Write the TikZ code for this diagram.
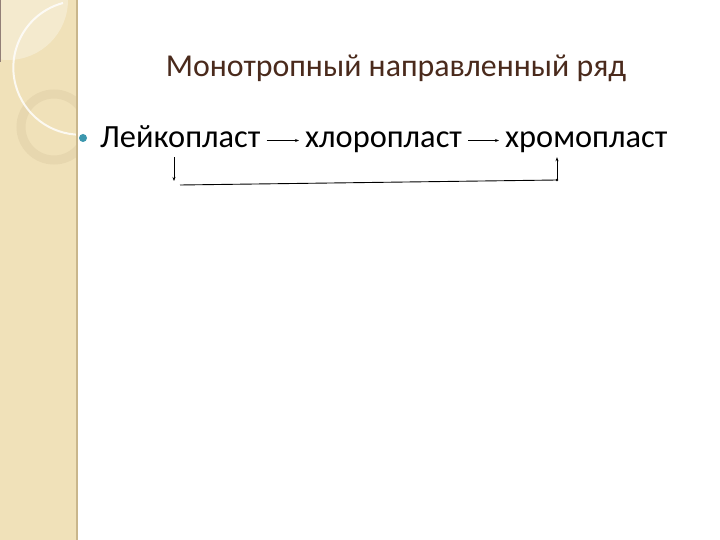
\documentclass[tikz,border=0pt]{standalone}
\usepackage{fontspec}
\setmainfont{Carlito}
\usetikzlibrary{arrows.meta}
\definecolor{stripbg}{HTML}{F0E1B9}
\definecolor{stripring}{HTML}{E7D7AF}
\definecolor{stripedge}{HTML}{C9B68C}
\definecolor{titlebrown}{HTML}{4A2A1C}
\definecolor{bullteal}{HTML}{3C97AE}
\begin{document}
\begin{tikzpicture}[x=1bp, y=-1bp,
		word/.style={font=\fontsize{32.5}{34}\selectfont, text height=22bp, text depth=7bp, inner xsep=6bp, inner ysep=2bp},
		arr/.style={-{Stealth[length=4bp,width=3bp]}, line width=.7bp}]
				\useasboundingbox (0,0) rectangle (720,540);
				\fill[white] (0,0) rectangle (720,540);
				\fill[stripbg] (0,0) rectangle (78,540);
				\begin{scope}
					\clip (0,0) rectangle (77,540);
					\fill[white, opacity=.3] (8,0) circle (60);
					\draw[stripring, line width=9bp] (54,127) circle (33);
					\draw[white, opacity=.8, line width=2bp] (63,3) arc (255:90:67);
				\end{scope}
				\draw[stripedge, line width=1.5bp] (77,0) -- (77,540);
				\draw[titlebrown!60, line width=1bp] (.5,0) -- (.5,62);
				\node[font=\fontsize{32}{34}\selectfont, text=titlebrown] (title) at (396,68) {Монотропный направленный ряд};
				\fill[bullteal] (83,138) circle (4) node (bull) {};
				\node[word, anchor=base west] (leuko) at (94,148) {Лейкопласт};
				\node[word, anchor=base west] (chloro) at (299,148) {хлоропласт};
				\node[word, anchor=base west] (chromo) at (499,148) {хромопласт};
				\draw[arr] (leuko) -- (chloro);
				\draw[arr] (chloro) -- (chromo);
				\coordinate (d1) at (174,181);
				\coordinate (h1) at (180,185);
				\coordinate (h2) at (557,180);
				\draw[arr] (leuko.south -| d1) -- (d1);
				\draw[line width=.9bp] (h1) -- (h2);
				\fill (h2) circle (1.3);
				\draw[arr] (h2) -- (chromo.south -| h2);
			\end{tikzpicture}
\end{document}
